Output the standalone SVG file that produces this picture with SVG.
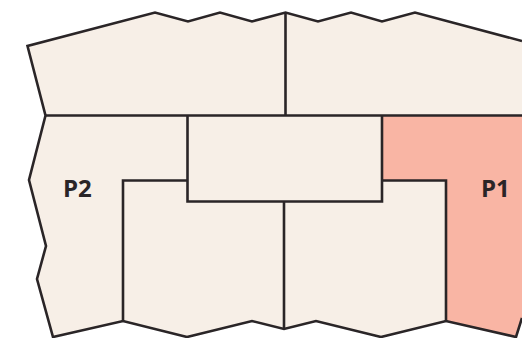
<svg xmlns="http://www.w3.org/2000/svg" width="522" height="338" viewBox="0 0 522 338">
<style>
.f{fill:#f7efe7;stroke:none}
.a{fill:#f9b5a4;stroke:none}
.l{fill:none;stroke:#2a2527;stroke-width:2.6;stroke-linejoin:miter}
.t{font-family:"Open Sans","Noto Sans",sans-serif;font-weight:700;font-size:24px;fill:#2a2527}
</style>
<g id="top-left"><path class="f" d="M27.5 46L155 12.5L188 21.5L220 12.5L252 21.5L285.5 12.5V115.5H45.5Z"/></g>
<g id="top-right"><path class="f" d="M285.5 12.5L318 21.5L351 12.5L382 21.5L415 12.5L522 41V115.5H285.5Z"/></g>
<g id="p2"><path class="f" d="M45.5 115.5H187.5V180.500H123V321L53 337L37 279L46 246L29 180Z"/><text class="t" x="63" y="197">P2</text></g>
<g id="p1"><path class="a" d="M382 115.500H522V318L516 337L446 321V180.500H382Z"/><text class="t" x="481" y="197">P1</text></g>
<g id="center"><rect class="f" x="187.500" y="115.500" width="194.500" height="86"/></g>
<g id="bottom-left"><path class="f" d="M123 180.500H187.500V201.500H284V329L252 321L187 337L123 321Z"/></g>
<g id="bottom-right"><path class="f" d="M284 201.500H382V180.500H446V321L381 337L316 321L284 329Z"/></g>
<g id="connectors">
<path class="l" d="M522 41L415 12.500L382 21.500L351 12.500L318 21.500L285.500 12.500L252 21.500L220 12.500L188 21.500L155 12.500L27.500 46L45.500 115.500L29 180L46 246L37 279L53 337L123 321L187 337L252 321L284 329L316 321L381 337L446 321L516 337L522 318"/>
<path class="l" d="M285.500 12.500V115.500M45.500 115.500H522M187.500 115.500V201.500H382V115.500M187.500 180.500H123V321M382 180.500H446V321M284 201.500V329"/>
</g>
</svg>
